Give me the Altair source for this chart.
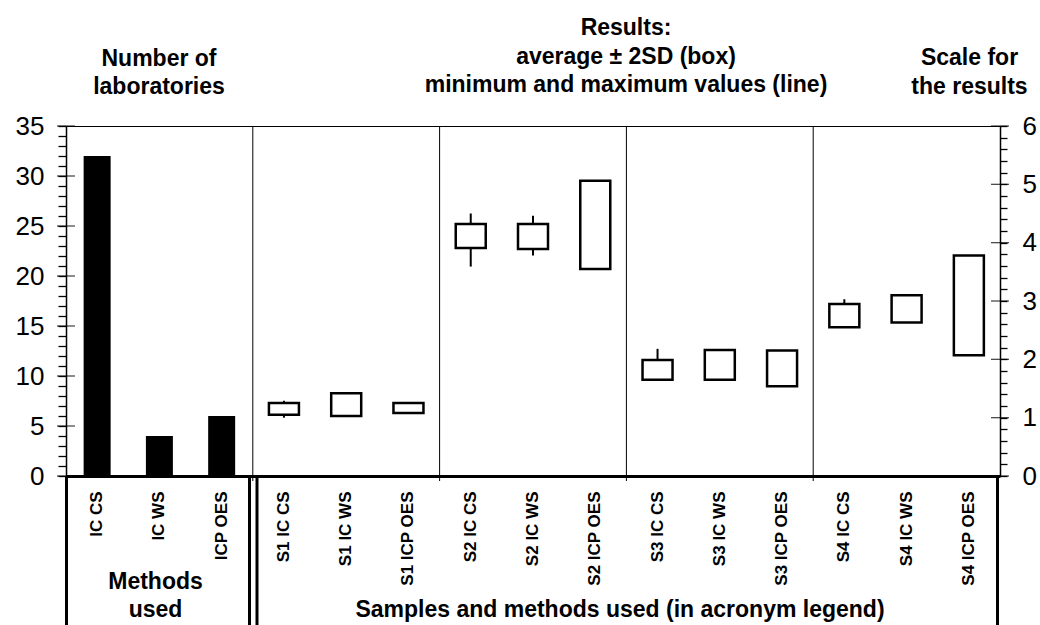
import altair as alt
import pandas as pd

# ---------------- data ----------------
methods = ["IC CS", "IC WS", "ICP OES"]
n_labs = [32, 4, 6]

samples = ["S1", "S2", "S3", "S4"]
result_cats = [f"{s} {m}" for s in samples for m in methods]
box_low = [1.05, 1.03, 1.08, 3.91, 3.89, 3.55, 1.65, 1.65, 1.54, 2.55, 2.63, 2.07]
box_high = [1.25, 1.42, 1.25, 4.32, 4.32, 5.06, 1.99, 2.16, 2.15, 2.95, 3.10, 3.78]
val_min = [1.00, 1.03, 1.08, 3.59, 3.78, 3.55, 1.65, 1.65, 1.54, 2.55, 2.63, 2.07]
val_max = [1.29, 1.42, 1.25, 4.50, 4.46, 5.06, 2.18, 2.16, 2.15, 3.03, 3.10, 3.78]

left_tick_values = list(range(0, 36))
left_major = list(range(0, 36, 5))
right_tick_values = [round(i * 0.2, 1) for i in range(31)]
right_major = list(range(0, 7))

all_cats = methods + result_cats

# ---------------- layout ----------------
W, H = 934, 350
FONT = "Liberation Sans"

x_axis = alt.Axis(
    title=None, labelAngle=270, labelAlign="right", labelBaseline="middle",
    labelFont=FONT, labelFontWeight="bold", labelFontSize=17, labelPadding=15,
    labelColor="black", ticks=False, domainColor="black", domainWidth=3,
    grid=False, labelLimit=0,
)


def xenc(**kw):
    return alt.X(
        "cat:N",
        scale=alt.Scale(domain=all_cats, paddingInner=0, paddingOuter=0),
        sort=all_cats,
        axis=x_axis,
        **kw,
    )


left_scale = alt.Scale(domain=[0, 35], nice=False, zero=True)
right_scale = alt.Scale(domain=[0, 6], nice=False, zero=True)

left_axis = alt.Axis(
    orient="left", values=left_tick_values, title=None, grid=False,
    labelExpr="datum.value % 5 === 0 ? format(datum.value, 'd') : ''",
    labelOverlap=False, tickSize=8, tickWidth=1.3, tickColor="black",
    labelPadding=14, labelFont=FONT, labelFontSize=26, labelColor="black",
    domainColor="black", domainWidth=1.5,
)
right_axis = alt.Axis(
    orient="right", values=right_tick_values, title=None, grid=False,
    labelExpr="abs(datum.value - round(datum.value)) < 0.001 ? format(datum.value, 'd') : ''",
    labelOverlap=False, tickSize=7, tickWidth=1.3, tickColor="black",
    labelPadding=15, labelFont=FONT, labelFontSize=26, labelColor="black",
    domainColor="black", domainWidth=1.5,
)

df_left = pd.DataFrame({"cat": methods, "n": n_labs})
df_right = pd.DataFrame({
    "cat": result_cats, "lo": box_low, "hi": box_high,
    "vmin": val_min, "vmax": val_max,
})
df_div = pd.DataFrame({"cat": [f"{s} {methods[0]}" for s in samples]})
one = pd.DataFrame({"a": [0]})

bars = alt.Chart(df_left).mark_bar(size=27, color="black").encode(
    x=xenc(), y=alt.Y("n:Q", scale=left_scale, axis=left_axis)
)

left_major_ticks = alt.Chart(pd.DataFrame({"v": left_major})).mark_tick(
    orient="horizontal", size=18, thickness=1.3, color="black"
).encode(x=alt.value(0), y=alt.Y("v:Q", scale=left_scale, axis=None))

right_major_ticks = alt.Chart(pd.DataFrame({"w": right_major})).mark_tick(
    orient="horizontal", size=18, thickness=1.3, color="black"
).encode(x=alt.value(W), y=alt.Y("w:Q", scale=right_scale, axis=None))

dividers = alt.Chart(df_div).mark_rule(color="black", strokeWidth=1).encode(
    x=xenc(bandPosition=0), y=alt.value(0), y2=alt.value(H + 5)
)

whiskers = alt.Chart(df_right).mark_rule(color="black", strokeWidth=2).encode(
    x=xenc(), y=alt.Y("vmin:Q", scale=right_scale, axis=None), y2="vmax:Q"
)

boxes = alt.Chart(df_right).mark_bar(
    size=30, fill="white", stroke="black", strokeWidth=2.5
).encode(
    x=xenc(), y=alt.Y("lo:Q", scale=right_scale, axis=right_axis), y2="hi:Q"
)


def frame_line(xpix):
    return alt.Chart(one).mark_rule(color="black", strokeWidth=3).encode(
        x=alt.value(xpix), y=alt.value(H), y2=alt.value(H + 170)
    )


frames = [frame_line(0.5), frame_line(183.5), frame_line(191), frame_line(931.5)]


def text_block(lines, xpix, ypix):
    return alt.Chart(one).mark_text(
        font=FONT, fontWeight="bold", fontSize=23, align="center",
        baseline="alphabetic", lineHeight=28.5, color="black",
    ).encode(x=alt.value(xpix), y=alt.value(ypix), text=alt.value(lines))


texts = [
    text_block(["Number of", "laboratories"], 93, -60.5),
    text_block(["Results:", "average \u00b1 2SD (box)", "minimum and maximum values (line)"], 560, -91),
    text_block(["Scale for", "the results"], 903.5, -61),
    text_block(["Methods", "used"], 89.5, 462.5),
    text_block(["Samples and methods used (in acronym legend)"], 554, 490.5),
]

chart = alt.layer(
    bars, dividers, whiskers, boxes, left_major_ticks, right_major_ticks,
    *frames, *texts,
).resolve_scale(y="independent").properties(
    width=W, height=H,
    autosize=alt.AutoSizeParams(type="none"),
    padding={"left": 66, "top": 126, "right": 40, "bottom": 149},
).configure_view(stroke="black", strokeWidth=1)

chart.save("out.html", embed_options={"renderer": "svg", "actions": False})
